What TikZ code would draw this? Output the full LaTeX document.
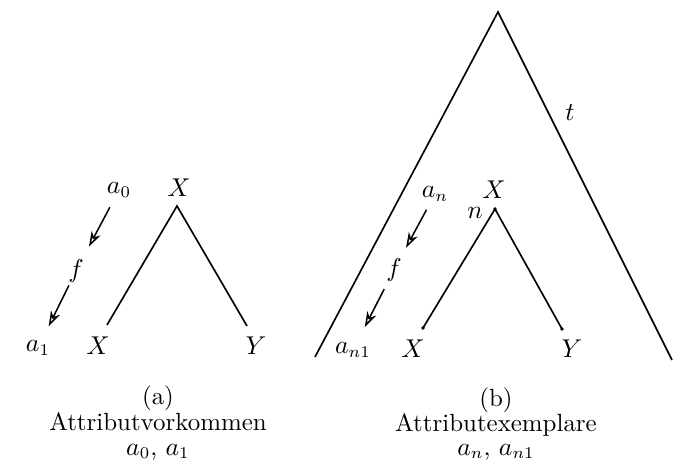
\documentclass[tikz,border=0pt]{standalone}
\usetikzlibrary{arrows.meta}
\begin{document}
\begin{tikzpicture}[x=0.4255pt,y=-0.4255pt,
  lbl/.style={inner sep=0pt,font=\fontsize{10.6}{12.5}\selectfont},
  treeline/.style={line width=0.7pt},
  attrarrow/.style={line width=0.65pt,-{Stealth[length=6.5pt,width=4.2pt,inset=2pt,open]}},
  leafdot/.style={fill=black}]
\useasboundingbox (0,0) rectangle (673,470);
% ---------- (a)
\coordinate (aTop) at (177,206);
\coordinate (aL) at (107,325);
\coordinate (aR) at (247,326);
\node[lbl] (aX) at (179,188) {$X$};
\node[lbl] (aXl) at (98,346) {$X$};
\node[lbl] (aY) at (256,346) {$Y$};
\node[lbl] (a0) at (119,190) {$a_0$};
\node[lbl] (af) at (76,271) {$f$};
\node[lbl] (a1) at (38,348) {$a_1$};
\draw[treeline] (aL) -- (aTop) -- (aR);
\draw[attrarrow,shorten <=4.5pt,shorten >=6pt] (a0) -- (af);
\draw[attrarrow,shorten <=1.2pt,shorten >=6.5pt] (af) -- (a1);
\node[lbl] (capa1) at (158,398) {(a)};
\node[lbl] (capa2) at (158,422) {Attributvorkommen};
\node[lbl] (capa3) at (158,452) {$a_0$, $a_1$};
% ---------- (b)
\coordinate (bTop) at (498,12);
\coordinate (bL) at (315,357);
\coordinate (bR) at (672,360);
\draw[treeline] (bL) -- (bTop) -- (bR);
\node[lbl] (bt) at (570,113) {$t$};
\coordinate (nTop) at (495,209);
\coordinate (nL) at (423,328);
\coordinate (nR) at (562,329);
\draw[treeline] (nL) -- (nTop) -- (nR);
\fill[leafdot] (nTop) circle (0.8pt) (nL) circle (0.8pt) (nR) circle (0.8pt);
\node[lbl] (bX) at (494,190) {$X$};
\node[lbl] (bn) at (475,213) {$n$};
\node[lbl] (bXl) at (413,349) {$X$};
\node[lbl] (bY) at (572,349) {$Y$};
\node[lbl] (an) at (435,194) {$a_n$};
\node[lbl] (bf) at (394,270) {$f$};
\node[lbl] (an1) at (353,350) {$a_{n1}$};
\draw[attrarrow,shorten <=3.8pt,shorten >=5pt] (an) -- (bf);
\draw[attrarrow,shorten <=3.4pt,shorten >=7.2pt] (bf) -- (an1);
\node[lbl] (capb1) at (496,400) {(b)};
\node[lbl] (capb2) at (496,425) {Attributexemplare};
\node[lbl] (capb3) at (496,452) {$a_n$, $a_{n1}$};
\end{tikzpicture}
\end{document}
